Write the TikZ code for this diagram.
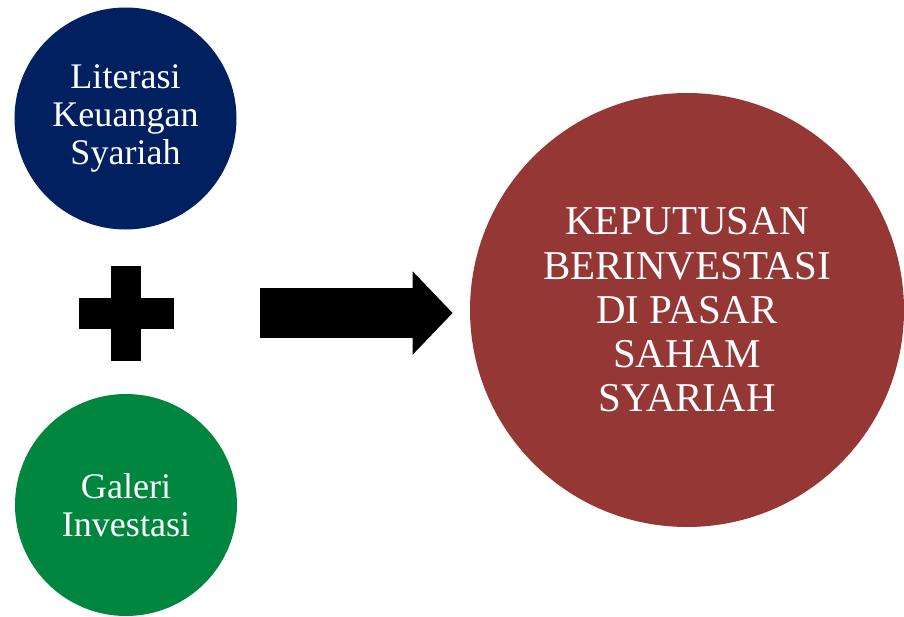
\documentclass[tikz,border=0pt]{standalone}
\usepackage{fontspec}
\setmainfont{Liberation Serif}
\usepackage{tikz}
\usepackage{xcolor}
\usetikzlibrary{shapes, positioning, arrows.meta}

\definecolor{navyblue}{RGB}{0,32,96}
\definecolor{darkgreen}{RGB}{0,134,62}
\definecolor{darkred}{RGB}{149,55,53}

\begin{document}
\begin{tikzpicture}[
        small/.style={circle, inner sep=0pt, minimum size=4.44cm, text=white, align=center, font=\fontsize{20.5}{21.5}\selectfont},
        big/.style={circle, inner sep=0pt, minimum size=8.68cm, text=white, align=center, font=\fontsize{23.3}{25.2}\selectfont},
        bar/.style={rectangle, fill=black, inner sep=0pt}
    ]
        \useasboundingbox (0, 0) rectangle (18.08, 12.32);
        
        \node[small, fill=navyblue] (lit) at (2.51, 9.95) {Literasi\\Keuangan\\Syariah};
        \node[small, fill=darkgreen] (gal) at (2.52, 2.22) {Galeri\\Investasi};
        \node[big, fill=darkred] (res) at (13.74, 6.12) {KEPUTUSAN\\BERINVESTASI\\DI PASAR\\SAHAM\\SYARIAH};
        
        \node[bar, minimum width=1.9cm, minimum height=0.62cm] (plus) at (2.52, 6.06) {};
        \node[bar, minimum width=0.6cm, minimum height=1.9cm] (plusv) at (2.52, 6.06) {};
        
        \draw[line width=1cm, -{Triangle[length=0.8cm, width=1.62cm]},
            shorten <=2.68cm, shorten >=0.34cm] (plus.center) to (plus -| res.west);
    \end{tikzpicture}
\end{document}
